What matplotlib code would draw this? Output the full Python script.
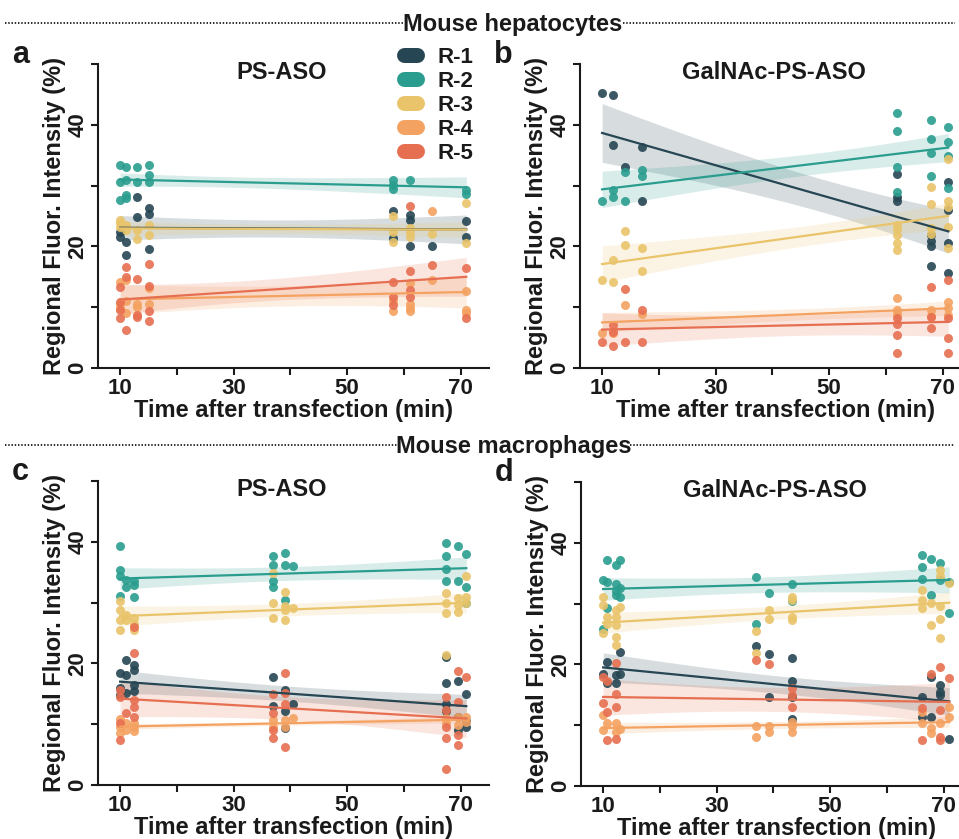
import numpy as np
import matplotlib.pyplot as plt
from matplotlib.lines import Line2D

plt.rcParams['font.family'] = ['Liberation Sans', 'DejaVu Sans']
plt.rcParams['font.weight'] = 'bold'
plt.rcParams['axes.labelweight'] = 'bold'

REGIONS = ["R-1", "R-2", "R-3", "R-4", "R-5"]
COLORS = ["#264653", "#2A9D8F", "#E9C46A", "#F4A261", "#E76F51"]
TXT = "#1a1a1a"

# (time in min, regional intensity %)
# panel a: hepatocytes, PS-ASO
A_R1 = [(10, 22.3), (10, 21.6), (11, 20.8), (11, 18.6), (13, 28.2), (13, 24.9),
        (15, 26.3), (15, 25.4), (15, 19.6), (58, 25.9), (58, 21.3), (61, 25.2),
        (61, 24.3), (61, 20.0), (65, 20.0), (71, 24.1), (71, 21.6)]
A_R2 = [(10, 33.4), (10, 30.6), (10, 27.6), (11, 33.1), (11, 30.9), (11, 28.5),
        (11, 28.0), (13, 33.1), (13, 30.6), (15, 33.4), (15, 31.7), (15, 30.6),
        (58, 30.9), (58, 30.1), (58, 29.4), (61, 30.9), (71, 29.3), (71, 28.7)]
A_R3 = [(10, 24.3), (10, 23.8), (10, 23.2), (11, 22.7), (11, 23.5), (13, 22.7),
        (13, 21.2), (15, 23.5), (15, 21.9), (58, 25.0), (58, 22.3), (58, 20.8),
        (61, 23.0), (61, 21.6), (61, 22.4), (65, 22.0), (71, 27.2), (71, 20.5)]
A_R4 = [(10, 14.2), (10, 10.5), (10, 9.8), (11, 14.5), (11, 9.1), (11, 11.0),
        (13, 10.5), (13, 10.1), (15, 13.1), (15, 10.6), (58, 9.3), (58, 11.1),
        (61, 13.9), (61, 9.3), (61, 9.9), (61, 10.6), (65, 14.4), (65, 25.9),
        (71, 12.7), (71, 9.6), (71, 9.0)]
A_R5 = [(10, 13.3), (10, 10.9), (10, 9.5), (10, 8.2), (11, 16.6), (11, 15.0),
        (11, 6.3), (13, 14.6), (13, 8.7), (13, 8.4), (15, 17.1), (15, 13.5),
        (15, 9.3), (15, 7.8), (58, 14.2), (58, 11.7), (58, 10.4), (61, 26.7),
        (61, 16.0), (61, 12.9), (61, 11.7), (65, 16.9), (71, 16.4), (71, 8.3)]

# panel b: hepatocytes, GalNAc-PS-ASO
B_R1 = [(10, 45.2), (12, 44.9), (12, 36.7), (14, 33.0), (17, 36.3), (17, 27.5),
        (62, 31.9), (62, 28.2), (62, 27.5), (68, 21.9), (68, 20.9), (68, 20.1),
        (68, 16.7), (71, 30.6), (71, 26.0), (71, 20.5), (71, 15.7)]
B_R2 = [(10, 27.4), (12, 29.3), (12, 28.1), (14, 32.3), (14, 27.5), (17, 32.5),
        (17, 31.5), (62, 41.9), (62, 38.9), (62, 33.1), (62, 29.0), (68, 40.8),
        (68, 37.7), (68, 35.4), (68, 31.5), (71, 39.6), (71, 37.2), (71, 34.9),
        (71, 29.6)]
B_R3 = [(10, 14.4), (12, 17.7), (12, 14.2), (14, 22.6), (14, 20.2), (17, 19.8),
        (17, 16.0), (62, 23.5), (62, 22.8), (62, 21.9), (62, 20.6), (62, 19.4),
        (68, 29.8), (68, 26.9), (68, 23.0), (68, 22.0), (71, 34.3), (71, 27.4),
        (71, 26.5), (71, 23.2), (71, 19.7)]
B_R4 = [(10, 5.7), (12, 5.7), (14, 10.4), (17, 8.8), (62, 11.5), (62, 9.5),
        (62, 8.8), (68, 9.5), (68, 8.5), (71, 10.9), (71, 9.8), (71, 8.7)]
B_R5 = [(10, 4.3), (12, 3.6), (12, 7.1), (12, 6.0), (14, 13.0), (14, 4.3),
        (17, 9.5), (17, 4.3), (62, 8.2), (62, 7.3), (62, 5.4), (62, 2.4),
        (68, 13.4), (68, 8.4), (68, 6.5), (71, 14.5), (71, 8.2), (71, 4.9),
        (71, 2.4)]

# panel c: macrophages, PS-ASO
C_R1 = [(10, 18.4), (10, 15.9), (11, 20.5), (11, 18.1), (12.5, 19.8), (12.5, 18.9),
        (12.5, 16.5), (12.5, 15.5), (10, 14.8), (11, 15.2), (37, 17.8), (37, 13.0),
        (39, 15.7), (39, 12.1), (39, 9.3), (40.5, 13.4), (67.5, 21.1), (67.5, 16.7),
        (67.5, 13.4), (67.5, 12.1), (69.5, 17.1), (69.5, 9.1), (69.5, 11.2),
        (71, 15.0), (71, 9.6), (71, 10.5)]
C_R2 = [(10, 39.3), (10, 35.4), (10, 34.4), (10, 31.1), (11, 33.7), (11, 32.6),
        (12.5, 33.6), (12.5, 32.9), (12.5, 31.0), (37, 37.7), (37, 36.2), (37, 33.5),
        (37, 32.5), (39, 38.1), (39, 36.2), (39, 30.5), (40.5, 36.0), (67.5, 39.8),
        (67.5, 37.6), (67.5, 35.5), (67.5, 33.5), (69.5, 39.3), (69.5, 33.5),
        (71, 38.0), (71, 32.6), (71, 29.9)]
C_R3 = [(10, 30.2), (10, 28.8), (10, 27.2), (10, 25.5), (11, 28.0), (11, 27.2),
        (12.5, 27.4), (12.5, 25.5), (12.5, 26.5), (37, 34.8), (37, 29.9), (37, 27.4),
        (39, 31.8), (39, 29.4), (39, 28.8), (39, 27.2), (40.5, 29.1), (67.5, 31.5),
        (67.5, 29.9), (67.5, 28.3), (67.5, 21.4), (69.5, 30.7), (69.5, 29.6),
        (69.5, 28.5), (71, 34.3), (71, 31.0), (71, 30.0)]
C_R4 = [(10, 9.6), (10, 8.5), (10, 10.8), (11, 10.2), (11, 9.0), (12.5, 10.2),
        (12.5, 8.8), (12.5, 9.5), (37, 10.7), (37, 9.6), (39, 10.7), (39, 9.6),
        (40.5, 11.0), (67.5, 11.0), (67.5, 10.2), (69.5, 11.2), (69.5, 9.9),
        (71, 11.2), (71, 10.4)]
C_R5 = [(10, 15.6), (10, 14.5), (10, 10.2), (10, 7.4), (11, 11.8), (12.5, 26.0),
        (12.5, 21.7), (12.5, 14.0), (12.5, 12.9), (12.5, 11.2), (37, 14.9), (37, 11.8),
        (37, 9.1), (37, 7.7), (39, 18.4), (39, 15.1), (39, 13.4), (39, 6.3),
        (67.5, 14.5), (67.5, 12.3), (67.5, 9.6), (67.5, 7.7), (67.5, 2.7),
        (69.5, 18.7), (69.5, 13.7), (69.5, 8.2), (69.5, 6.6), (71, 17.7)]

# panel d: macrophages, GalNAc-PS-ASO
D_R1 = [(10, 18.5), (10.7, 20.4), (10.7, 16.9), (12.3, 18.2), (12.3, 16.9),
        (13, 22.1), (13, 18.5), (37, 23.0), (39.3, 21.7), (39.3, 14.7), (43.3, 21.0),
        (43.3, 17.2), (43.3, 14.7), (43.3, 11.1), (66.2, 14.7), (66.2, 11.4),
        (67.8, 17.9), (67.8, 11.4), (69.4, 16.6), (69.4, 15.5), (69.4, 15.0),
        (71, 7.8)]
D_R2 = [(10, 33.9), (10, 25.9), (10.7, 37.2), (10.7, 33.6), (10.7, 29.2),
        (12.3, 36.4), (12.3, 33.3), (12.3, 31.4), (12.3, 32.0), (13, 37.2),
        (13, 32.5), (13, 31.1), (37, 34.4), (37, 26.7), (39.3, 31.7), (43.3, 33.2),
        (43.3, 30.5), (66.2, 38.0), (66.2, 36.1), (66.2, 34.0), (67.8, 37.3),
        (67.8, 31.4), (69.4, 36.6), (69.4, 33.9), (71, 28.5), (71, 33.5)]
D_R3 = [(10, 31.1), (10, 29.8), (10, 25.1), (10.7, 27.8), (10.7, 26.7),
        (12.3, 28.9), (12.3, 27.8), (12.3, 26.5), (12.3, 24.5), (12.3, 23.2),
        (13, 29.4), (37, 25.5), (37, 21.9), (39.3, 28.9), (39.3, 27.4), (43.3, 31.1),
        (43.3, 30.6), (43.3, 27.8), (43.3, 27.3), (66.2, 32.2), (66.2, 30.6),
        (66.2, 29.2), (67.8, 30.1), (67.8, 26.5), (69.4, 35.5), (69.4, 34.5),
        (69.4, 29.6), (69.4, 27.4), (69.4, 24.3), (71, 33.4)]
D_R4 = [(10, 11.7), (10, 9.2), (10.7, 10.3), (12.3, 10.3), (12.3, 8.9),
        (13, 9.3), (37, 9.8), (37, 8.0), (39.3, 9.8), (39.3, 8.8),
        (43.3, 9.8), (43.3, 8.8), (43.3, 10.6), (66.2, 12.2), (66.2, 10.3),
        (67.8, 9.5), (67.8, 8.7), (69.4, 10.3), (71, 13.0), (71, 11.4)]
D_R5 = [(10, 18.0), (10, 13.6), (10.7, 17.2), (10.7, 12.2), (10.7, 7.6),
        (12.3, 20.2), (12.3, 15.2), (12.3, 13.0), (12.3, 7.8), (37, 20.7),
        (39.3, 20.1), (43.3, 16.1), (43.3, 15.0), (43.3, 13.0), (66.2, 12.8),
        (66.2, 7.5), (67.8, 18.4), (69.4, 19.5), (69.4, 12.5), (69.4, 8.1),
        (69.4, 7.5), (71, 17.7)]

PANELS = [
    ("a", "PS-ASO", [A_R1, A_R2, A_R3, A_R4, A_R5]),
    ("b", "GalNAc-PS-ASO", [B_R1, B_R2, B_R3, B_R4, B_R5]),
    ("c", "PS-ASO", [C_R1, C_R2, C_R3, C_R4, C_R5]),
    ("d", "GalNAc-PS-ASO", [D_R1, D_R2, D_R3, D_R4, D_R5]),
]

W, H = 959, 839
# axes boxes in pixels: left, top, width, height
BOXES = [(98, 64, 391, 304), (580, 64, 391, 304),
         (98, 481, 391, 304), (581, 482, 391, 304)]


def fit_band(t, v):
    coef = np.polyfit(t, v, 1)
    xs = np.linspace(t.min(), t.max(), 100)
    ys = np.polyval(coef, xs)
    resid = v - np.polyval(coef, t)
    n = len(t)
    s = np.sqrt((resid ** 2).sum() / (n - 2))
    se = s * np.sqrt(1 / n + (xs - t.mean()) ** 2 / ((t - t.mean()) ** 2).sum())
    return xs, ys, 2.02 * se


fig = plt.figure(figsize=(W / 100, H / 100), dpi=100)

for (letter, title, series), (l, t, w, h) in zip(PANELS, BOXES):
    ax = fig.add_axes([l / W, 1 - (t + h) / H, w / W, h / H])
    for pts, col in zip(series, COLORS):
        arr = np.array(pts, dtype=float)
        xs, ys, ci = fit_band(arr[:, 0], arr[:, 1])
        ax.fill_between(xs, ys - ci, ys + ci, color=col, alpha=0.18, lw=0, zorder=1)
    for pts, col in zip(series, COLORS):
        arr = np.array(pts, dtype=float)
        ax.scatter(arr[:, 0], arr[:, 1], s=42, color=col, alpha=0.9, lw=0, zorder=2)
    for pts, col in zip(series, COLORS):
        arr = np.array(pts, dtype=float)
        xs, ys, ci = fit_band(arr[:, 0], arr[:, 1])
        ax.plot(xs, ys, color=col, lw=1.6, zorder=3)

    ax.set_xlim(6.1, 75)
    ax.set_ylim(0, 50)
    ax.set_xticks(range(10, 71, 10))
    ax.set_xticklabels(["10", "", "30", "", "50", "", "70"])
    ax.set_yticks(range(0, 51, 10))
    ax.set_yticklabels(["0", "", "20", "", "40", ""], rotation=90, va="center")
    ax.tick_params(length=5, width=1.5, pad=2, labelsize=16, colors=TXT)
    for sp in ["top", "right"]:
        ax.spines[sp].set_visible(False)
    for sp in ["left", "bottom"]:
        ax.spines[sp].set_linewidth(1.5)
        ax.spines[sp].set_color(TXT)
    ax.set_xlabel("Time after transfection (min)", fontsize=17, labelpad=0, color=TXT)
    ax.set_ylabel("Regional Fluor. Intensity (%)", fontsize=17, labelpad=1, color=TXT)
    ax.text(40.3 if "Gal" in title else 38.5, 48.6, title, fontsize=17,
            ha="center", va="center", color=TXT)
    fig.text((l - 86) / W, 1 - (t - 1) / H, letter, fontsize=22, ha="left",
             va="baseline", color=TXT)

# section headers with dotted rules
for label, y, x0, x1 in [("Mouse hepatocytes", 24, 403, 623),
                         ("Mouse macrophages", 446, 397, 630)]:
    fig.text((x0 + x1) / 2 / W, 1 - y / H, label, fontsize=17, ha="center",
             va="center", color=TXT)
    for a, b in [(5, x0), (x1, 955)]:
        fig.add_artist(Line2D([a / W, b / W], [1 - (y - 1) / H] * 2,
                              transform=fig.transFigure, color=TXT, lw=1.3,
                              dashes=(0.8, 1.0)))

handles = [Line2D([0], [0], color=c, lw=10.8, solid_capstyle="round") for c in COLORS]
fig.legend(handles, REGIONS, loc="upper left", bbox_to_anchor=(404 / W, 1 - 47 / H),
           frameon=False, fontsize=16, handlelength=0.6, handletextpad=0.9,
           labelspacing=0.13, borderpad=0, borderaxespad=0, labelcolor=TXT)

fig.savefig("out.png", dpi=100)
